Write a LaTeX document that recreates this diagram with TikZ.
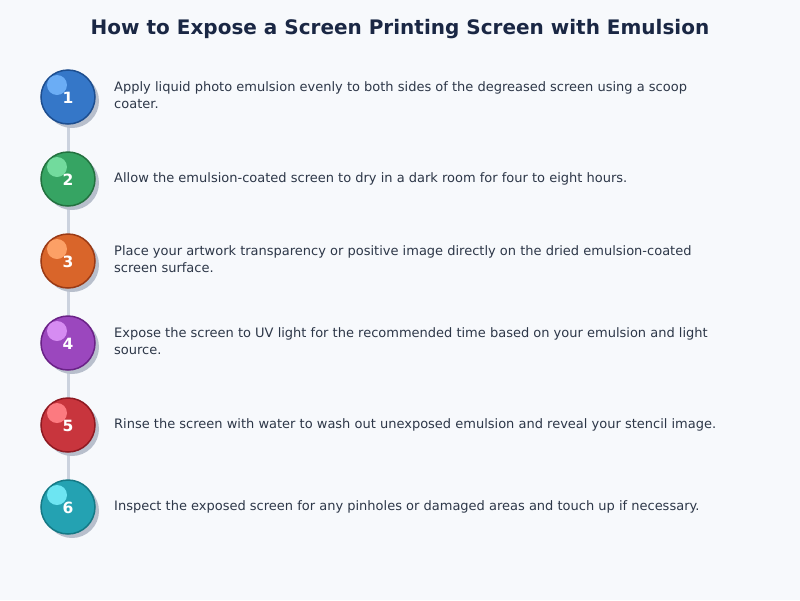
\documentclass[tikz,border=0pt]{standalone}
\usepackage{fontspec}
\setmainfont{DejaVu Sans}
\usetikzlibrary{calc}
\definecolor{bg}{HTML}{F7F9FC}
\definecolor{titlec}{HTML}{1A2744}
\definecolor{txt}{HTML}{2D3748}
\definecolor{linec}{HTML}{CBD2DE}
\definecolor{shad}{HTML}{B8BFCC}
\definecolor{fA}{HTML}{3577C8}\definecolor{bA}{HTML}{1D4E8F}\definecolor{hA}{HTML}{6BADF5}
\definecolor{fB}{HTML}{36A463}\definecolor{bB}{HTML}{23713F}\definecolor{hB}{HTML}{72DB9D}
\definecolor{fC}{HTML}{D9652A}\definecolor{bC}{HTML}{9A3A15}\definecolor{hC}{HTML}{FCA066}
\definecolor{fD}{HTML}{9B47BE}\definecolor{bD}{HTML}{6A2287}\definecolor{hD}{HTML}{D68CF2}
\definecolor{fE}{HTML}{C8353D}\definecolor{bE}{HTML}{8E1A22}\definecolor{hE}{HTML}{FC7A80}
\definecolor{fF}{HTML}{24A2B2}\definecolor{bF}{HTML}{157985}\definecolor{hF}{HTML}{6DE5F2}
\tikzset{
  stepcirc/.style={circle,minimum size=54pt,inner sep=0pt,line width=1.5pt},
  shadowc/.style={circle,minimum size=54pt,inner sep=0pt,fill=shad},
  hilite/.style={circle,minimum size=20pt,inner sep=0pt},
  numtxt/.style={text=white,font=\fontsize{15.5}{18}\selectfont\bfseries},
  desc/.style={anchor=west,align=left,text=txt,font=\fontsize{13}{17}\selectfont,inner sep=0pt},
}
\begin{document}
\begin{tikzpicture}[x=1pt,y=-1pt]
\fill[bg] (0,0) rectangle (800,600);
\useasboundingbox (0,0) rectangle (800,600);
\node[text=titlec,font=\fontsize{20}{24}\selectfont\bfseries] (title) at (400,29.5) {How to Expose a Screen Printing Screen with Emulsion};
\foreach \i/\y in {1/97,2/179,3/261,4/343,5/425,6/507}{
  \coordinate (c\i) at (68,\y);
}
\draw[linec,line width=3pt] (c1) -- (c6);
\foreach \i/\f/\b/\h in {1/fA/bA/hA,2/fB/bB/hB,3/fC/bC/hC,4/fD/bD/hD,5/fE/bE/hE,6/fF/bF/hF}{
  \node[shadowc] (s\i) at ($(c\i)+(4,4)$) {};
  \node[stepcirc,fill=\f,draw=\b] (n\i) at (c\i) {};
  \node[hilite,fill=\h] (h\i) at ($(c\i)+(-11,-12)$) {};
  \node[numtxt] (t\i) at ($(c\i)+(0,1)$) {\i};
}
\node[desc] (d1) at (114,95.5) {Apply liquid photo emulsion evenly to both sides of the degreased screen using a scoop\\coater.};
\node[desc] (d2) at (114,178.5) {Allow the emulsion-coated screen to dry in a dark room for four to eight hours.};
\node[desc] (d3) at (114,259.5) {Place your artwork transparency or positive image directly on the dried emulsion-coated\\screen surface.};
\node[desc] (d4) at (114,341.5) {Expose the screen to UV light for the recommended time based on your emulsion and light\\source.};
\node[desc] (d5) at (114,424.5) {Rinse the screen with water to wash out unexposed emulsion and reveal your stencil image.};
\node[desc] (d6) at (114,506.5) {Inspect the exposed screen for any pinholes or damaged areas and touch up if necessary.};
\end{tikzpicture}
\end{document}
